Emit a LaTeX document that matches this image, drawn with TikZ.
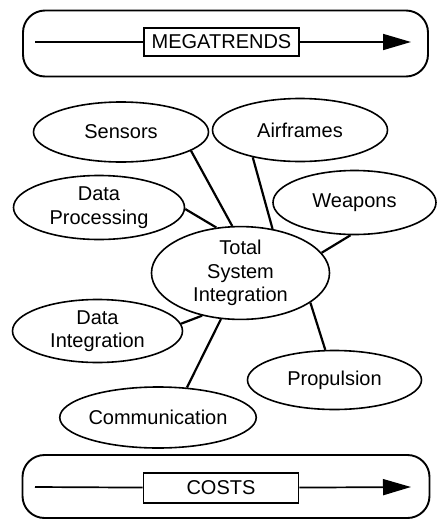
\documentclass[tikz,border=0pt]{standalone}
\usepackage{fontspec}
\setmainfont{Liberation Sans}
\usetikzlibrary{shapes.geometric,arrows.meta}
\begin{document}
\begin{tikzpicture}[x=1pt,y=-1pt,
  font=\fontsize{20}{23.5}\selectfont,
  topicell/.style={ellipse, draw, line width=1.6pt, inner sep=0pt, align=center},
  linkline/.style={line width=2.2pt},
  bandbox/.style={draw, line width=1.9pt, rounded corners=22pt, inner sep=0pt},
  tagbox/.style={draw, fill=white, line width=1.7pt, minimum width=155pt, minimum height=28pt, inner sep=0pt},
  trendline/.style={line width=1.7pt},
  trendarrow/.style={trendline, -{Triangle[length=28pt,width=16pt]}},
]
\useasboundingbox (0,0) rectangle (437,520);

% top band
\node[bandbox, minimum width=405pt, minimum height=66pt] (mband) at (225.5,43.5) {};
\coordinate (ms) at (35,42);
\coordinate (me) at (411,42);
\node[tagbox] (mtag) at (221.5,42) {MEGATRENDS};
\draw[trendline] (ms) -- (mtag);
\draw[trendarrow] (mtag) -- (me);

% bottom band
\node[bandbox, minimum width=407pt, minimum height=63pt] (cband) at (226,486.5) {};
\coordinate (cs) at (35,487);
\coordinate (ce) at (411,487);
\node[tagbox, minimum height=30pt] (ctag) at (221,488) {COSTS};
\draw[trendline] (cs) -- (ctag);
\draw[trendarrow] (ctag) -- (ce);

% ellipses
\node[topicell, minimum width=175pt, minimum height=60pt] (sens) at (121,132) {Sensors};
\node[topicell, minimum width=175pt, minimum height=63pt] (air) at (300,130) {Airframes};
\node[topicell, minimum width=171pt, minimum height=64pt] (dp) at (99,207.5) {Data\\Processing};
\node[topicell, minimum width=163pt, minimum height=64pt] (weap) at (354.5,202.5) {Weapons};
\node[topicell, minimum width=178pt, minimum height=79pt] (tsi) at (240.5,273) {Total\\System\\Integration};
\node[topicell, minimum width=170pt, minimum height=63pt] (di) at (97.5,331) {Data\\Integration};
\node[topicell, minimum width=174pt, minimum height=59pt] (prop) at (334.5,380) {Propulsion};
\node[topicell, minimum width=177pt, minimum height=61pt] (comm) at (158,417.5) {Communication};

% connectors
\draw[linkline] (sens.-15.8) -- (tsi.100.4);
\draw[linkline] (air.-150.6) -- (tsi.54.1);
\draw[linkline] (dp.-1.7) -- (tsi.118.8);
\draw[linkline] (weap.-97) -- (tsi.14.8);
\draw[linkline] (di.5.3) -- (tsi.-132.2);
\draw[linkline] (comm.46.3) -- (tsi.-113.6);
\draw[linkline] (prop.107.6) -- (tsi.-23.3);
\end{tikzpicture}
\end{document}
